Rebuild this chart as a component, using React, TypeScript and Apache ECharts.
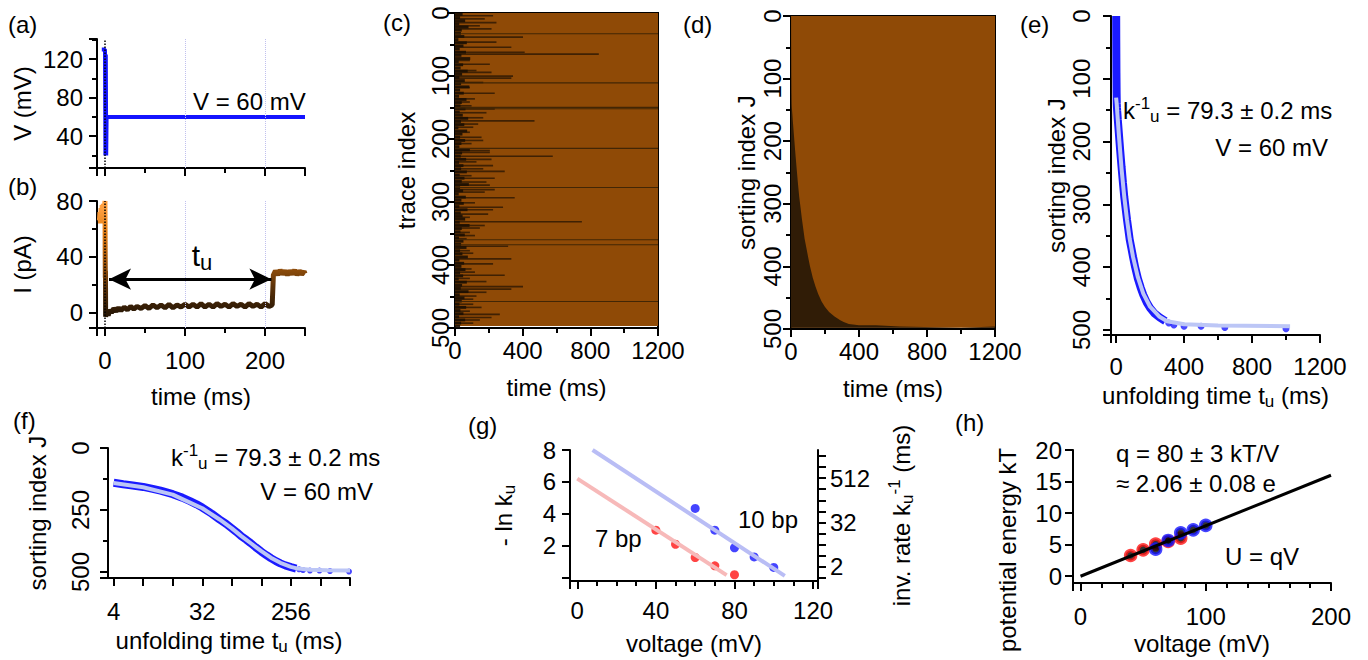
import React, { useEffect, useRef } from "react";
import * as echarts from "echarts";

const FONT = "'Liberation Sans', Arial, Helvetica, sans-serif";

// ---------------- data ----------------
// (a) applied voltage trace  [time ms, V mV]
const A_TRACE = [[-4, 130], [0, 130], [0.5, 20], [1, 125], [1.5, 20], [2, 60], [60, 60], [120, 60], [180, 60], [250, 60]];
const AB_MARKS = [0, 100, 200];
// (b) current trace [time ms, I pA]
const B_TRACE = [
  [-7, 66], [-6.3, 72], [-5.6, 64], [-4.9, 75], [-4.2, 68], [-3.5, 77], [-2.8, 70], [-2.1, 78], [-1.4, 69], [-0.7, 76], [0, 80],
  [0.2, 45], [0.4, 25], [0.6, 30], [0.8, -3], [2, 1], [4, -2], [6, 2], [8, 0], [11, 3], [14, 1], [17, 3.5], [20, 1.5], [24, 4],
  [28, 2], [32, 4.5], [36, 2.5], [40, 4.5], [45, 3], [50, 5], [55, 3], [60, 5.5], [65, 3.5], [70, 5.5], [75, 3.5], [80, 6],
  [85, 3.5], [90, 5.5], [95, 4], [100, 6], [105, 4], [110, 6], [115, 4], [120, 6.5], [125, 4], [130, 6], [135, 4], [140, 6.5],
  [145, 4.5], [150, 6], [155, 4], [160, 6.5], [165, 4.5], [170, 6], [175, 4], [180, 6.5], [185, 4.5], [190, 6], [195, 4],
  [200, 6.5], [205, 4.5], [209, 5.5], [210.5, 27], [213, 30], [216, 27], [219, 30.5], [222, 27.5], [225, 30], [228, 27],
  [231, 30], [234, 27.5], [237, 30.5], [240, 27], [243, 30], [246, 27.5], [249, 29.5], [250, 28]
];
const B_ARROW = [[5, 24], [208, 24]];

// (c) raw traces: image extent [t0, idx0, t1, idx1]
const C_BOX = [[0, 0, 1200, 497]];
// short blocked-state durations (ms), one every 5 trace indices
const C_SHORT = [
  45, 30, 60, 25, 80, 40, 35, 55, 20, 70, 50, 28, 65, 38, 90, 22, 48, 33, 75, 42,
  26, 58, 36, 85, 30, 52, 24, 68, 40, 32, 62, 28, 46, 78, 35, 55, 20, 72, 44, 30,
  60, 38, 26, 88, 42, 34, 66, 24, 50, 36, 70, 28, 56, 40, 82, 30, 48, 22, 64, 38,
  52, 26, 74, 34, 45, 60, 28, 86, 40, 32, 58, 24, 50, 36, 68, 30, 44, 76, 26, 54,
  38, 62, 30, 48, 22, 70, 42, 34, 80, 28, 56, 40, 26, 66, 32, 50, 24, 60, 36, 30
];
// [trace index, unfolding time ms]
const C_SEG = [
  [3, 225], [8, 176], [14, 245], [19, 147], [24, 216], [37, 402], [45, 245], [53, 333], [61, 412], [64, 850], [74, 88], [80, 206],
  [90, 127], [93, 216], [99, 343], [102, 333], [109, 167], [117, 88], [126, 235], [135, 118], [140, 88], [146, 98], [151, 235],
  [157, 186], [165, 167], [170, 470], [175, 137], [180, 108], [188, 88], [196, 157], [201, 167], [206, 98], [217, 206], [220, 206],
  [226, 578], [231, 216], [235, 127], [241, 225], [246, 167], [250, 294], [257, 98], [261, 235], [267, 186], [272, 206], [279, 235],
  [283, 176], [292, 353], [300, 118], [307, 284], [311, 225], [318, 196], [323, 88], [330, 750], [336, 176], [340, 147], [347, 88],
  [352, 118], [357, 69], [369, 314], [376, 88], [380, 108], [389, 333], [397, 225], [405, 98], [410, 118], [415, 294], [420, 88],
  [425, 186], [433, 402], [437, 333], [442, 186], [448, 127], [453, 108], [461, 108], [466, 157], [472, 88], [477, 265], [482, 216],
  [486, 147], [491, 108]
];
// traces that never unfold within the window
const C_LINES = [32, 110, 149, 151, 214, 276, 359, 367, 457];

// (d) sorted traces
const D_BOX = [[0, 0, 1200, 498]];
const D_CLOSE = [[1200, 496], [1200, 498], [0, 498], [0, 0]];

// (e)/(f) sorted unfolding times [t ms, sorting index J]
const TU_SORTED = [
  [0.5, 0], [1, 40], [2, 90], [3, 122], [4, 140], [5, 146], [6, 150], [8, 157], [10, 165], [12, 172], [16, 186], [20, 200],
  [24, 214], [28, 227], [32, 240], [40, 265], [48, 288], [56, 306], [64, 324], [72, 340], [80, 356], [90, 370], [100, 384],
  [112, 400], [128, 418], [144, 432], [160, 444], [180, 456], [200, 465], [224, 473], [256, 480], [290, 486]
];
const TU_TAIL = [[310, 489], [340, 492], [400, 494], [500, 494], [640, 496], [1000, 498]];
const TU_FIT = [
  [0, 130], [4, 141], [8, 158], [16, 188], [32, 243], [48, 288], [64, 324], [80, 355], [100, 384], [128, 416], [160, 442],
  [200, 463], [256, 479], [300, 486], [400, 491], [600, 493], [1024, 494]
];

// (g) -ln k_u vs voltage
const G_V10 = [60, 70, 80, 90, 100];
const G_LN10 = [4.34, 2.98, 1.88, 1.31, 0.65];
const G_V7 = [40, 50, 60, 70, 80];
const G_LN7 = [2.98, 2.1, 1.27, 0.75, 0.19];
const G_FIT10 = [[7.8, 8.0], [105.6, 0.12]];
const G_FIT7 = [[0, 6.21], [76, 0.17]];

// (h) potential energy vs voltage
const H_V7 = [40, 50, 60, 70, 80];
const H_U7 = [3.29, 4.18, 5.08, 5.5, 6.03];
const H_V10 = [60, 70, 80, 90, 100];
const H_U10 = [4.29, 5.67, 6.88, 7.35, 8.05];
const H_FIT = [[0, 0], [200, 16]];

// tick labels
const A_YLABELS = [40, 80, 120];
const B_XLABELS = [0, 100, 200];
const B_YLABELS = [0, 40, 80];
const CD_XLABELS = [0, 400, 800, 1200];
const CDE_YLABELS = [0, 100, 200, 300, 400, 500];
const F_XLABELS = [4, 32, 256];
const F_YLABELS = [0, 250, 500];
const G_XLABELS = [0, 40, 80, 120];
const G_YLABELS = [2, 4, 6, 8];
const G_RLABELS = [2, 32, 512];
const H_XLABELS = [0, 100, 200];
const H_YLABELS = [0, 5, 10, 15, 20];

// ---------------- helpers ----------------
const zip = (a: number[], b: number[]) => a.map((v, i) => [v, b[i]]);

const only = (vals: number[]) => (v: number) => {
  for (const x of vals) if (Math.abs(x - v) < 1e-6 * Math.max(1, Math.abs(x))) return String(x);
  return "";
};

const RICH = {
  n: { fontSize: 24, fontFamily: FONT, color: "#000" },
  s: { fontSize: 17, fontFamily: FONT, color: "#000", padding: [12, 0, 0, 0] },
  p: { fontSize: 17, fontFamily: FONT, color: "#000", padding: [0, 0, 14, 0] },
};

const BLACK = { color: "#000", width: 2 };

function vAxis(o: any) {
  return {
    type: o.type || "value",
    logBase: o.logBase,
    gridIndex: o.grid,
    position: o.position,
    min: o.min,
    max: o.max,
    minInterval: o.step,
    maxInterval: o.step,
    inverse: !!o.inverse,
    axisLine: { show: true, onZero: false, lineStyle: BLACK },
    axisTick: { show: true, inside: false, length: 8, lineStyle: BLACK },
    minorTick: { show: !!o.minor, splitNumber: o.minor || 5, length: 5, lineStyle: BLACK },
    splitLine: { show: false },
    minorSplitLine: { show: false },
    axisLabel: {
      show: o.labelShow !== false,
      formatter: o.formatter || only(o.labels || []),
      margin: o.margin ?? 8,
      rotate: o.rotate || 0,
      color: "#000",
      fontSize: 24,
      fontFamily: FONT,
      showMinLabel: o.hideMin ? false : undefined,
      showMaxLabel: o.hideMax ? false : undefined,
    },
    name: o.name,
    nameLocation: "middle",
    nameGap: o.nameGap,
    nameTextStyle: { color: "#000", fontSize: 24, fontFamily: FONT, rich: RICH },
  };
}

const boxRender = (fill: string) => (params: any, api: any) => {
  const p0 = api.coord([api.value(0), api.value(1)]);
  const p1 = api.coord([api.value(2), api.value(3)]);
  return {
    type: "rect",
    shape: { x: Math.min(p0[0], p1[0]), y: Math.min(p0[1], p1[1]), width: Math.abs(p1[0] - p0[0]), height: Math.abs(p1[1] - p0[1]) },
    style: { fill },
  };
};

// item = [trace index, duration]
const segRender = (rows: number, fill: string, opacity: number) => (params: any, api: any) => {
  const idx = api.value(0);
  const t = api.value(1);
  const p0 = api.coord([0, idx]);
  const p1 = api.coord([t, idx + rows]);
  return {
    type: "rect",
    shape: { x: p0[0], y: Math.min(p0[1], p1[1]), width: p1[0] - p0[0], height: Math.abs(p1[1] - p0[1]) },
    style: { fill, opacity },
  };
};

const txt = (x: number, y: number, text: string, align = "left", rich?: any, rotation = 0) => ({
  type: "text",
  x,
  y,
  rotation,
  silent: true,
  style: {
    text,
    fill: "#000",
    fontSize: 24,
    fontFamily: FONT,
    align,
    verticalAlign: "middle",
    textAlign: align,
    textVerticalAlign: "middle",
    rich,
  },
});

const KTEXT = "{n|k}{p|-1}{s|u}{n| = 79.3 ± 0.2 ms}";

export default function App() {
  const ref = useRef<HTMLDivElement>(null);

  useEffect(() => {
    if (!ref.current) return;
    const chart = echarts.init(ref.current, undefined, { renderer: "svg" });

    const D_POLY = [[0, 0], ...TU_SORTED, ...TU_TAIL, ...D_CLOSE];
    const F_DATA = TU_SORTED.filter((p) => p[0] >= 3.5);
    const F_FIT = TU_FIT.filter((p) => p[0] >= 3.5);

    const grids = [
      { left: 97, top: 39, width: 208, height: 129 }, // a
      { left: 97, top: 201, width: 208, height: 127 }, // b
      { left: 455, top: 13, width: 203, height: 315, show: true, borderColor: "#000", borderWidth: 2 }, // c
      { left: 791, top: 16, width: 204, height: 313, show: true, borderColor: "#000", borderWidth: 2 }, // d
      { left: 1111, top: 16, width: 209, height: 319 }, // e
      { left: 108, top: 448, width: 242, height: 130 }, // f
      { left: 570, top: 450, width: 248, height: 131 }, // g
      { left: 1073, top: 450, width: 258, height: 133 }, // h
    ].map((g: any) => ({ containLabel: false, outerBoundsMode: "none", backgroundColor: "transparent", show: false, ...g }));

    const xAxis = [
      vAxis({ grid: 0, min: -10, max: 250, step: 100, minor: 2, labelShow: false, hideMin: true }),
      vAxis({ grid: 1, min: -10, max: 250, step: 100, minor: 2, labels: B_XLABELS, margin: 20, hideMin: true, name: "time (ms)", nameGap: 56 }),
      vAxis({ grid: 2, min: 0, max: 1200, step: 400, minor: 2, labels: CD_XLABELS, margin: 10, name: "time (ms)", nameGap: 47 }),
      vAxis({ grid: 3, min: 0, max: 1200, step: 400, minor: 2, labels: CD_XLABELS, margin: 10, name: "time (ms)", nameGap: 47 }),
      vAxis({ grid: 4, min: -30, max: 1200, step: 400, minor: 2, labels: CD_XLABELS, margin: 19, hideMin: true, name: "{n|unfolding time t}{s|u}{n| (ms)}", nameGap: 46 }),
      vAxis({
        grid: 5, type: "log", logBase: 2, min: 3.5, max: 1024, labels: F_XLABELS, margin: 21, hideMin: true,
        formatter: (v: number) => { const r = Math.round(v); return F_XLABELS.includes(r) && Math.abs(v - r) < 1e-6 ? String(r) : ""; },
        name: "{n|unfolding time t}{s|u}{n| (ms)}", nameGap: 48,
      }),
      vAxis({ grid: 6, min: -3.7, max: 122.5, step: 40, minor: 4, labels: G_XLABELS, margin: 17, hideMin: true, hideMax: true, name: "voltage (mV)", nameGap: 50 }),
      vAxis({ grid: 7, min: -6, max: 200, step: 100, minor: 6, labels: H_XLABELS, margin: 21, hideMin: true, name: "voltage (mV)", nameGap: 48 }),
    ];
    (xAxis[5] as any).minInterval = undefined;
    (xAxis[5] as any).maxInterval = undefined;

    const yAxis = [
      vAxis({ grid: 0, min: 7, max: 141, step: 40, minor: 2, labels: A_YLABELS, margin: 14, hideMin: true, hideMax: true, name: "V (mV)", nameGap: 63 }),
      vAxis({ grid: 1, min: -11, max: 80, step: 40, minor: 2, labels: B_YLABELS, margin: 14, hideMin: true, name: "I (pA)", nameGap: 63 }),
      vAxis({ grid: 2, min: 0, max: 500, step: 100, minor: 2, labels: CDE_YLABELS, margin: 3, rotate: 90, inverse: true, name: "trace index", nameGap: 37 }),
      vAxis({ grid: 3, min: 0, max: 500, step: 100, minor: 2, labels: CDE_YLABELS, margin: 7, rotate: 90, inverse: true, name: "sorting index J", nameGap: 33 }),
      vAxis({ grid: 4, min: 0, max: 508, step: 100, minor: 2, labels: CDE_YLABELS, margin: 18, rotate: 90, inverse: true, hideMax: true, name: "sorting index J", nameGap: 39 }),
      vAxis({ grid: 5, min: 0, max: 524, step: 250, minor: 2, labels: F_YLABELS, margin: 16, rotate: 90, inverse: true, hideMax: true, name: "sorting index J", nameGap: 59 }),
      vAxis({ grid: 6, min: -0.2, max: 8, step: 2, labels: G_YLABELS, margin: 14, hideMin: true, name: "{n|- ln k}{s|u}", nameGap: 52 }),
      vAxis({ grid: 7, min: -1.07, max: 20, step: 5, labels: H_YLABELS, margin: 11, hideMin: true }),
      vAxis({
        grid: 6, position: "right", min: -0.2, max: 8, step: Math.LN2, margin: 12, hideMin: true, hideMax: true,
        formatter: (v: number) => { const p = Math.exp(v); const r = Math.round(p); return G_RLABELS.includes(r) && Math.abs(p - r) < 0.01 * r ? String(r) : ""; },
        name: "{n|inv. rate k}{s|u}{p|-1}{n| (ms)}", nameGap: 68,
      }),
    ];

    const series: any[] = [
      // (a)
      {
        type: "line", xAxisIndex: 0, yAxisIndex: 0, data: A_TRACE, showSymbol: false, lineStyle: { color: "#1414ff", width: 4 },
        markLine: {
          silent: true, symbol: "none", label: { show: false },
          lineStyle: { type: "dotted", color: "#c0c0ee", width: 1 },
          data: AB_MARKS.map((v) => ({ xAxis: v, lineStyle: { color: v === 0 ? "#000" : "#c0c0ee", width: v === 0 ? 1.5 : 1, type: "dotted" } })),
        },
      },
      // (b) trace
      { type: "line", xAxisIndex: 1, yAxisIndex: 1, data: B_TRACE, showSymbol: false, lineStyle: { width: 5 }, z: 3 },
      // (b) guide lines
      {
        type: "line", xAxisIndex: 1, yAxisIndex: 1, data: [], showSymbol: false, z: 1,
        markLine: {
          silent: true, symbol: "none", label: { show: false },
          data: AB_MARKS.map((v) => ({ xAxis: v, lineStyle: { color: v === 0 ? "#000" : "#c0c0ee", width: v === 0 ? 1.5 : 1, type: "dotted" } })),
        },
      },
      // (b) arrow
      {
        type: "line", xAxisIndex: 1, yAxisIndex: 1, data: [], showSymbol: false, z: 4,
        markLine: {
          silent: true, symbol: ["arrow", "arrow"], symbolSize: [16, 22], label: { show: false },
          lineStyle: { color: "#000", width: 3, type: "solid" },
          data: [[{ coord: B_ARROW[0] }, { coord: B_ARROW[1] }]],
        },
      },
      // (c)
      { type: "custom", xAxisIndex: 2, yAxisIndex: 2, data: C_BOX, renderItem: boxRender("#8f4a06"), silent: true },
      { type: "custom", xAxisIndex: 2, yAxisIndex: 2, data: C_SHORT.map((t, i) => [i * 5, t]), encode: { x: 1, y: 0 }, renderItem: segRender(4.5, "#1c0f03", 0.9), silent: true },
      { type: "custom", xAxisIndex: 2, yAxisIndex: 2, data: C_SEG, encode: { x: 1, y: 0 }, renderItem: segRender(2.6, "#1c0f03", 0.7), silent: true },
      { type: "custom", xAxisIndex: 2, yAxisIndex: 2, data: C_LINES.map((i) => [i, 1200]), encode: { x: 1, y: 0 }, renderItem: segRender(1.8, "#3a2206", 0.9), silent: true },
      // (d)
      { type: "custom", xAxisIndex: 3, yAxisIndex: 3, data: D_BOX, renderItem: boxRender("#8f4a06"), silent: true },
      {
        type: "custom", xAxisIndex: 3, yAxisIndex: 3, data: D_POLY, silent: true,
        renderItem: (params: any, api: any) =>
          params.dataIndex === 0 ? { type: "polygon", shape: { points: D_POLY.map((p) => api.coord(p)) }, style: { fill: "#301c06" } } : null,
      },
      // (e)
      { type: "line", xAxisIndex: 4, yAxisIndex: 4, data: TU_SORTED, showSymbol: false, lineStyle: { color: "#1a1aff", width: 8 } },
      { type: "scatter", xAxisIndex: 4, yAxisIndex: 4, data: TU_TAIL, symbolSize: 7, itemStyle: { color: "#1a1aff" } },
      { type: "line", xAxisIndex: 4, yAxisIndex: 4, data: TU_FIT, showSymbol: false, lineStyle: { color: "#bcc6f6", width: 4 } },
      // (f)
      { type: "line", xAxisIndex: 5, yAxisIndex: 5, data: F_DATA, showSymbol: false, lineStyle: { color: "#1a1aff", width: 8 } },
      { type: "scatter", xAxisIndex: 5, yAxisIndex: 5, data: TU_TAIL, symbolSize: 6, itemStyle: { color: "#1a1aff" } },
      { type: "line", xAxisIndex: 5, yAxisIndex: 5, data: F_FIT, showSymbol: false, lineStyle: { color: "#bcc6f6", width: 4 } },
      // (g)
      { type: "line", xAxisIndex: 6, yAxisIndex: 6, data: G_FIT10, showSymbol: false, lineStyle: { color: "#b9bdf5", width: 4 } },
      { type: "line", xAxisIndex: 6, yAxisIndex: 6, data: G_FIT7, showSymbol: false, lineStyle: { color: "#f7b9b9", width: 4 } },
      { type: "scatter", xAxisIndex: 6, yAxisIndex: 6, data: zip(G_V10, G_LN10), symbolSize: 9, itemStyle: { color: "#1515ff" } },
      { type: "scatter", xAxisIndex: 6, yAxisIndex: 6, data: zip(G_V7, G_LN7), symbolSize: 9, itemStyle: { color: "#ff1515" } },
      // (h)
      { type: "line", xAxisIndex: 7, yAxisIndex: 7, data: H_FIT, showSymbol: false, lineStyle: { color: "#000", width: 3 } },
      { type: "scatter", xAxisIndex: 7, yAxisIndex: 7, data: zip(H_V7, H_U7), symbolSize: 10, itemStyle: { color: "#000", borderColor: "#ff1515", borderWidth: 3.5 } },
      { type: "scatter", xAxisIndex: 7, yAxisIndex: 7, data: zip(H_V10, H_U10), symbolSize: 10, itemStyle: { color: "#000", borderColor: "#1515ff", borderWidth: 3.5 } },
    ];

    const graphic = [
      txt(8, 24, "(a)"),
      txt(8, 186, "(b)"),
      txt(383, 22, "(c)"),
      txt(683, 24, "(d)"),
      txt(1020, 24, "(e)"),
      txt(13, 420, "(f)"),
      txt(468, 425, "(g)"),
      txt(955, 422, "(h)"),
      txt(193, 101, "V = 60 mV"),
      txt(202, 255, "{t|t}{s|u}", "center", { t: { fontSize: 30, fontFamily: FONT, color: "#000" }, s: { fontSize: 22, fontFamily: FONT, color: "#000", padding: [14, 0, 0, 0] } }),
      txt(1123, 110, KTEXT, "left", RICH),
      txt(1328, 147, "V = 60 mV", "right"),
      txt(171, 457, KTEXT, "left", RICH),
      txt(373, 491, "V = 60 mV", "right"),
      txt(738, 519, "10 bp"),
      txt(595, 538, "7 bp"),
      txt(1116, 453, "q = 80 ± 3 kT/V"),
      txt(1116, 483, "≈ 2.06 ± 0.08 e"),
      txt(1225, 556, "U = qV"),
      txt(1007, 550, "potential energy kT", "center", undefined, Math.PI / 2),
    ];

    chart.setOption({
      animation: false,
      backgroundColor: "#fff",
      textStyle: { fontFamily: FONT },
      grid: grids,
      xAxis,
      yAxis,
      visualMap: [
        {
          type: "continuous", show: false, seriesIndex: 1, dimension: 1, min: 0, max: 75,
          inRange: { color: ["#2a1805", "#5c3208", "#a85a0c", "#e07c14", "#ffa040"] },
        },
      ],
      series,
      graphic,
    });

    return () => chart.dispose();
  }, []);

  return <div ref={ref} style={{ position: "fixed", left: 0, top: 0, width: 1368, height: 660, background: "#fff" }} />;
}
